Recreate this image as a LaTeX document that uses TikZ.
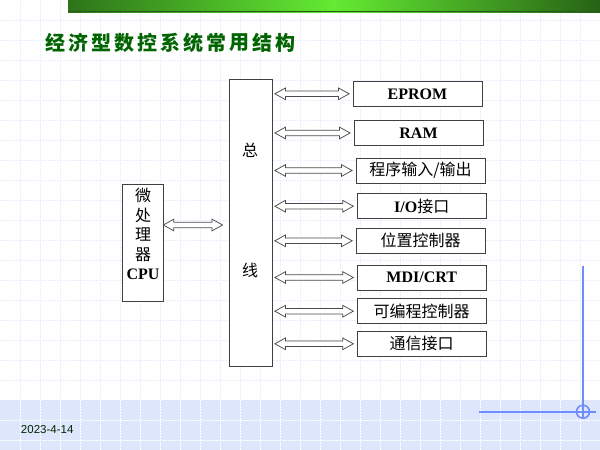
\documentclass[tikz,border=0pt]{standalone}
\usepackage{fontspec}
\setmainfont{Liberation Serif}
\newfontfamily\zh{Noto Sans CJK SC}
\newfontfamily\datefont{Liberation Sans}
\usetikzlibrary{calc}
\definecolor{titlegreen}{RGB}{0,100,0}
\definecolor{barlight}{RGB}{100,235,50}
\definecolor{bardark}{RGB}{45,115,25}
\definecolor{gridblue}{RGB}{234,237,252}
\definecolor{bandblue}{RGB}{222,230,252}
\definecolor{crossblue}{RGB}{112,140,255}

\begin{document}
\begin{tikzpicture}[x=1pt,y=-1pt,
    box/.style={draw=black!75,fill=white,line width=.8pt,inner sep=0pt,
      minimum width=129pt,minimum height=25pt,font=\fontsize{16}{19.5}\selectfont},
    buslabel/.style={font=\fontsize{16}{19.5}\selectfont\zh,inner sep=0pt},
    gridline/.style={gridblue,line width=.8pt,dash pattern=on 1.5pt off 1.5pt},
    titlechar/.style={font=\fontsize{20}{20}\selectfont\zh\bfseries,inner sep=0pt},
    biarrow/.style={draw=black!70,fill=white,line width=.75pt,
      to path={let \p1=(\tikztostart), \p2=(\tikztotarget) in
        (\x1,\y1) -- (\x1+10.5pt,\y1+5.8pt) -- (\x1+10.5pt,\y1+2.8pt)
        -- (\x2-10.5pt,\y1+2.8pt) -- (\x2-10.5pt,\y1+5.8pt) -- (\x2,\y1)
        -- (\x2-10.5pt,\y1-5.8pt) -- (\x2-10.5pt,\y1-2.8pt)
        -- (\x1+10.5pt,\y1-2.8pt) -- (\x1+10.5pt,\y1-5.8pt) -- cycle}}]
  \useasboundingbox (0,0) rectangle (600,450);
  \fill[white] (0,0) rectangle (600,450);
  \foreach \x in {20,40,...,580}
    \draw[gridline] (\x,0) -- (\x,400);
  \foreach \y in {20,40,...,380}
    \draw[gridline] (0,\y) -- (600,\y);
  \fill[bandblue] (0,400) rectangle (600,450);
  \foreach \x in {20,40,...,580}
    \draw[gridline,white] (\x,400) -- (\x,450);
  \foreach \y in {420,440}
    \draw[gridline,white] (0,\y) -- (600,\y);
  \shade[left color=bardark,right color=bardark!85!black,middle color=barlight]
    (68,0) rectangle (600,12);
  \draw[bardark!80!black,line width=1pt] (68,11.5) -- (600,11.5);

  \foreach \c [count=\i] in {经,济,型,数,控,系,统,常,用,结,构}
    \node[titlechar,titlegreen] (t\i) at (55.5+22.95*\i-22.95,43) {\c};

  \node[box,minimum width=43pt,minimum height=287pt] (bus) at (250.5,222.5) {};
  \node[buslabel] (bus1) at (250,150) {总};
  \node[buslabel] (bus2) at (250,270) {线};

  \node[box,minimum width=41pt,minimum height=117pt] (cpu) at (142.8,242.5) {};
  \node[align=center,inner sep=0pt,font=\fontsize{16}{19.5}\selectfont\zh]
    (cputext) at (143,234) {微\\处\\理\\器\\{\rmfamily\bfseries CPU}};

  \foreach \i/\x/\y/\t in {1/417.5/93.8/{\bfseries EPROM},
                           2/418.5/133/{\bfseries RAM},
                           3/420.5/170.5/{\zh 程序输入/输出},
                           4/421.7/206.2/{{\bfseries I/O}\zh 接口},
                           5/420.5/240.8/{\zh 位置控制器},
                           6/421.7/277.5/{\bfseries MDI/CRT},
                           7/421.7/311.2/{\zh 可编程控制器},
                           8/421.7/343.8/{\zh 通信接口}}
    \node[box] (e\i) at (\x,\y) {\t};

  \foreach \i in {1,...,8}
    \draw[biarrow] ($(bus.east |- e\i.west)+(2.5,0)$) to ($(e\i.west)+(-3.5,0)$);
  \coordinate (cpuarrow) at (163.3,225);
  \draw[biarrow] (cpuarrow) to ($(bus.west |- cpuarrow)+(-6,0)$);

  \draw[crossblue,line width=1.6pt] (583,266) -- (583,418);
  \draw[crossblue,line width=1.6pt] (479,411.7) -- (596,411.7);
  \draw[crossblue,line width=1.6pt] (583,411.7) circle (6.5);

  \node[font=\fontsize{11.5}{11.5}\selectfont\datefont,text=black!85!green,inner sep=0pt]
    (date) at (47.2,429.3) {2023-4-14};
\end{tikzpicture}
\end{document}
